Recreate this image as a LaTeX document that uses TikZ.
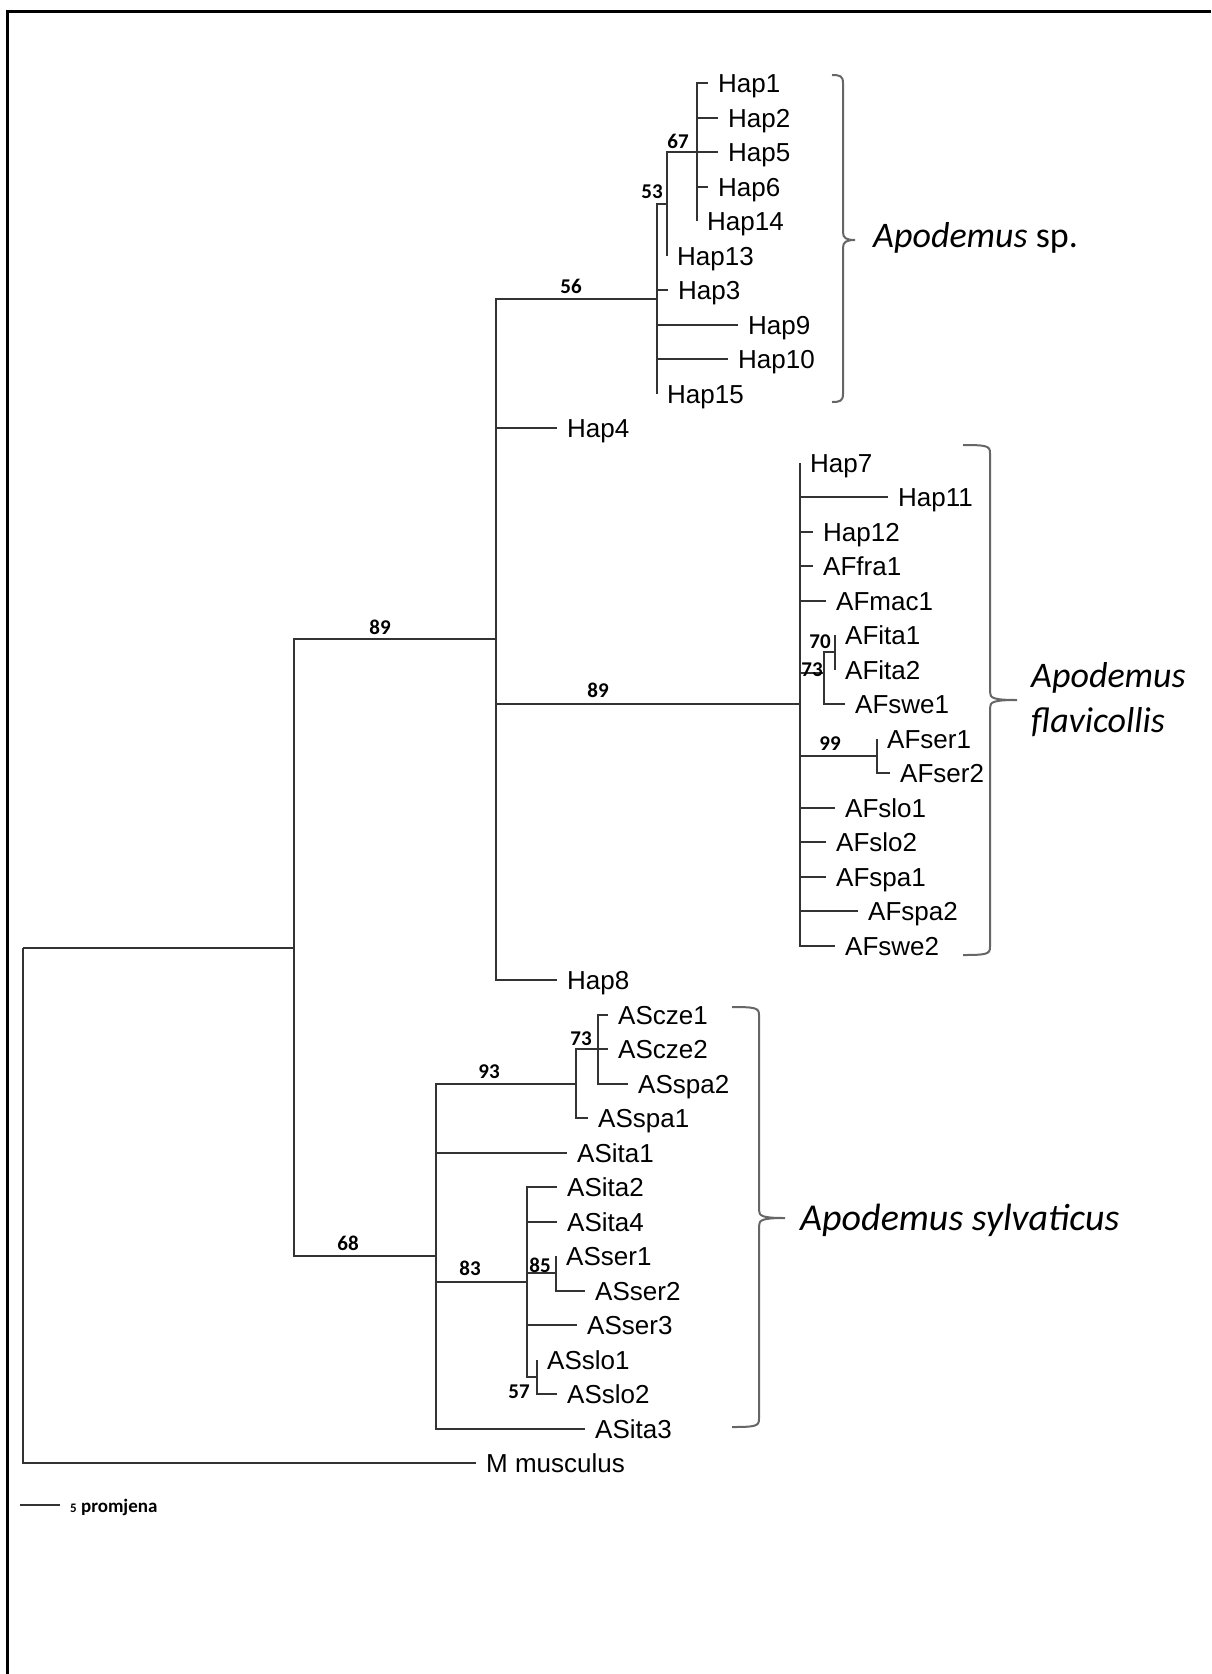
\documentclass[tikz,border=0pt]{standalone}
\usepackage{fontspec}
\setmainfont{Liberation Sans}
\newfontfamily\calibfont{Carlito}

\begin{document}
\begin{tikzpicture}[x=1pt, y=-1pt,
  branch/.style={black!80, line width=2pt},
  leaf/.style={anchor=west, inner xsep=10pt, inner ysep=0pt, text height=19pt, text depth=0pt, font=\fontsize{26}{28}\selectfont},
  boot/.style={inner sep=0pt, font=\calibfont\bfseries\fontsize{21}{22}\selectfont},
  clade/.style={anchor=base west, inner sep=0pt, font=\calibfont\fontsize{36}{40}\selectfont},
  brk/.style={black!60, line width=2pt}]
\useasboundingbox (0,0) rectangle (1211,1674);
\draw[line width=3pt] (7,1674) |- (1211,11);

% inner nodes (x of the vertical line, y where the branch comes in)
\coordinate (root) at (23,{83+34.5*25.0625});
\coordinate (kMain) at (294,{83+34.5*25.0625});
\coordinate (kA) at (496,{83+34.5*16.125});
\coordinate (k56) at (657,{83+34.5*6.25});
\coordinate (k53) at (667,{83+34.5*3.5});
\coordinate (k67) at (697,{83+34.5*2});
\coordinate (kFla) at (800,{83+34.5*18});
\coordinate (k73) at (824,{83+34.5*17.1});
\coordinate (k70) at (835,{83+34.5*16.5});
\coordinate (k99) at (877,{83+34.5*19.5});
\coordinate (kS) at (436,{83+34.5*34});
\coordinate (k93) at (576,{83+34.5*29});
\coordinate (kSc) at (598,{83+34.5*28});
\coordinate (k83) at (527,{83+34.5*34.75});
\coordinate (k85) at (556,{83+34.5*34.5});
\coordinate (k57) at (537,{83+34.5*37.5});

% leaves: row/tip/name/text
\foreach \r/\e/\n/\t in {0/708/hap1/Hap1, 1/718/hap2/Hap2, 2/718/hap5/Hap5, 3/708/hap6/Hap6,
  4/697/hap14/Hap14, 5/667/hap13/Hap13, 6/668/hap3/Hap3, 7/738/hap9/Hap9,
  8/728/hap10/Hap10, 9/657/hap15/Hap15, 10/557/hap4/Hap4,
  11/800/hap7/Hap7, 12/888/hap11/Hap11, 13/813/hap12/Hap12, 14/813/affra1/AFfra1,
  15/826/afmac1/AFmac1, 16/835/afita1/AFita1, 17/835/afita2/AFita2, 18/845/afswe1/AFswe1,
  19/877/afser1/AFser1, 20/890/afser2/AFser2, 21/835/afslo1/AFslo1, 22/826/afslo2/AFslo2,
  23/826/afspa1/AFspa1, 24/858/afspa2/AFspa2, 25/835/afswe2/AFswe2, 26/557/hap8/Hap8,
  27/608/asscze1/AScze1, 28/608/asscze2/AScze2, 29/628/asspa2/ASspa2, 30/588/asspa1/ASspa1,
  31/567/asita1/ASita1, 32/557/asita2/ASita2, 33/557/asita4/ASita4, 34/556/asser1/ASser1,
  35/585/asser2/ASser2, 36/577/asser3/ASser3, 37/537/asslo1/ASslo1, 38/557/asslo2/ASslo2,
  39/585/asita3/ASita3}
  \node[leaf] (\n) at (\e,{83+34.5*\r}) {\t};
\node[leaf] (mmus) at (476,{83+34.5*40}) {M musculus};

% branches
\foreach \p/\cs in {root/{kMain,mmus}, kMain/{kA,kS}, kA/{k56,hap4,kFla,hap8},
  k56/{k53,hap3,hap9,hap10,hap15}, k53/{k67,hap13}, k67/{hap1,hap2,hap5,hap6,hap14},
  kFla/{hap7,hap11,hap12,affra1,afmac1,k73,k99,afslo1,afslo2,afspa1,afspa2,afswe2},
  k73/{k70,afswe1}, k70/{afita1,afita2}, k99/{afser1,afser2},
  kS/{k93,asita1,k83,asita3}, k93/{kSc,asspa1}, kSc/{asscze1,asscze2,asspa2},
  k83/{asita2,asita4,k85,asser3,k57}, k85/{asser1,asser2}, k57/{asslo1,asslo2}}
  \foreach \c in \cs \draw[branch] (\p) |- (\c);

% bootstrap values
\foreach \n/\x/\y/\t in {b89/380/627/89, b56/571/286/56, b53/652/192/53, b67/678/141/67,
  b89f/598/690/89, b70/820/642/70, b73f/812/670/73, b99/830/744/99,
  b68/348/1243/68, b93/489/1072/93, b73s/581/1039/73, b83/470/1268/83,
  b85/540/1265/85, b57/519/1392/57}
  \node[boot] (\n) at (\x,\y) {\t};

% clade brackets: x/top/middle/bottom/left hook/tip
\foreach \bx/\bt/\bm/\bb/\bl/\bw in {843/75/240/402/11/12, 990/445/700/955/27/27, 759/1007/1218/1427/27/26}
  \draw[brk] ({\bx-\bl},\bt) .. controls ({\bx-3},\bt) and (\bx,{\bt+1}) .. (\bx,{\bt+8})
    -- (\bx,{\bm-8}) .. controls (\bx,{\bm-2}) and ({\bx+3},\bm) .. ({\bx+\bw},\bm)
    .. controls ({\bx+3},\bm) and (\bx,{\bm+2}) .. (\bx,{\bm+8})
    -- (\bx,{\bb-8}) .. controls (\bx,{\bb-1}) and ({\bx-3},\bb) .. ({\bx-\bl},\bb);

\node[clade] (cSp) at (873,247) {{\itshape Apodemus} sp.};
\node[clade] (cFla1) at (1031,687) {\itshape Apodemus};
\node[clade] (cFla2) at (1031,732) {\itshape flavicollis};
\node[clade, font=\calibfont\fontsize{38}{42}\selectfont] (cSyl) at (800,1230) {\itshape Apodemus sylvaticus};

% scale bar
\coordinate (sb0) at (20,1505);
\coordinate (sb1) at (60,1505);
\draw[branch] (sb0) -- (sb1);
\node[anchor=west, inner sep=0pt, font=\calibfont\bfseries\fontsize{19}{20}\selectfont] (sbtxt) at (70,1507) {{\fontsize{13}{14}\selectfont 5} promjena};

\end{tikzpicture}
\end{document}
